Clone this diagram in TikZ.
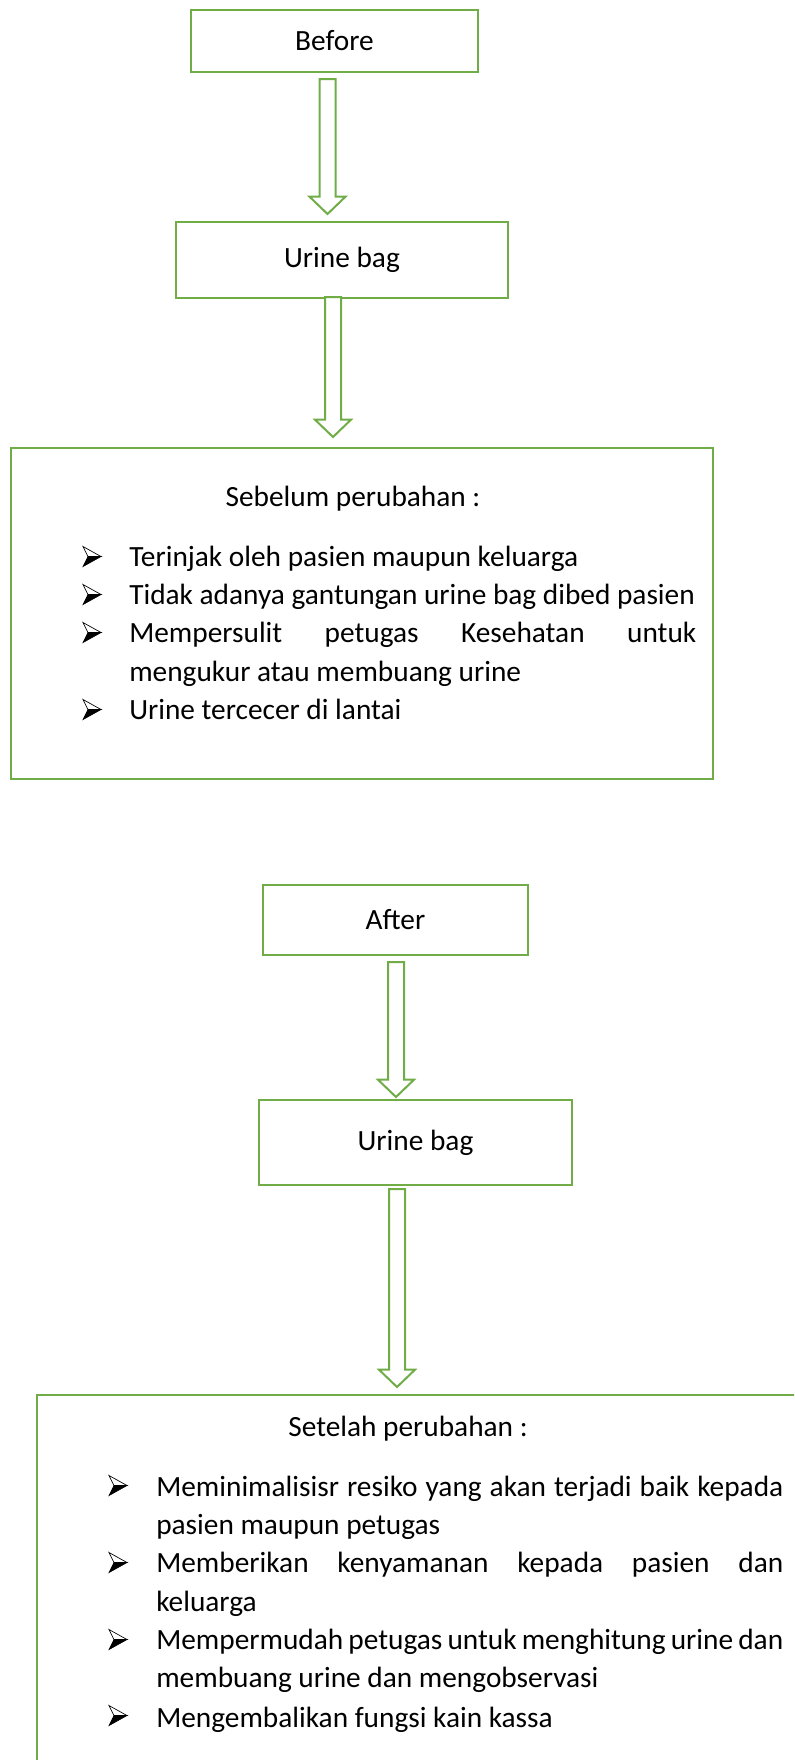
\documentclass[tikz,border=0pt]{standalone}
\usepackage{fontspec}
\setmainfont{Carlito}
\usetikzlibrary{calc}

\definecolor{officegreen}{HTML}{70AD47}

\tikzset{
  greenbox/.style={draw=officegreen, line width=1.5pt, fill=white, inner sep=0pt},
  blockarrow/.style={draw=officegreen, line width=1.5pt, fill=white, line join=miter},
  itemline/.style={anchor=base west, inner sep=0pt},
  bullettip/.pic={
      code={
          \draw[line width=0.5pt, fill=white] (0,-10) -- (18,0) -- (5,0) -- cycle;
          \draw[line width=0.5pt, fill=black] (5,0) -- (18,0) -- (0,10) -- cycle;
        }}
}
% hollow block arrow from #1 (top of shaft) to #2 (tip)
\newcommand{\blockarrow}[2]{%
  \draw[blockarrow] let \p1=(#1), \p2=(#2) in
    (\x1-6pt,\y1) -- (\x1+6pt,\y1) -- (\x1+6pt,\y2+13pt) -- (\x1+13.5pt,\y2+13pt)
    -- (\x1,\y2) -- (\x1-13.5pt,\y2+13pt) -- (\x1-6pt,\y2+13pt) -- cycle;
}

\begin{document}
\begin{tikzpicture}[x=0.75pt,y=-0.75pt,font=\fontsize{22pt}{28pt}\selectfont]
        \useasboundingbox (0,0) rectangle (794,1760);
        \clip (0,0) rectangle (794,1760);

        % before part
        \node[greenbox, minimum width=215.25pt, minimum height=46.5pt] (before) at (334.5,41) {Before};
        \node[greenbox, minimum width=249pt, minimum height=57pt] (bag1) at (342,260) {Urine bag};
        \node[greenbox, minimum width=526.5pt, minimum height=248.25pt] (sebelum) at (362,613.5) {};

        \coordinate (a1s) at ($(before.south)+(-7,6)$);
        \coordinate (a1e) at ($(bag1.north)+(-14.5,-7)$);
        \coordinate (a2s) at ($(bag1.south)+(-9,-2)$);
        \coordinate (a2e) at ($(sebelum.north)+(-29,-10)$);
        \blockarrow{a1s}{a1e}
        \blockarrow{a2s}{a2e}

        \node[anchor=base, inner sep=0pt] (sebtitle) at (353,506) {Sebelum perubahan :};
        \foreach \y in {556.5,594.5,632.5,709.5}
            \pic at (83,\y) {bullettip};
        \node[itemline] (s1) at (129,566) {Terinjak oleh pasien maupun keluarga};
        \node[itemline] (s2) at (129,604) {Tidak adanya gantungan urine bag dibed pasien};
        \node[itemline] (s3) at (129,642) {\makebox[425.25pt][s]{Mempersulit petugas Kesehatan untuk}};
        \node[itemline] (s3b) at (129,681) {mengukur atau membuang urine};
        \node[itemline] (s4) at (129,719) {Urine tercecer di lantai};

        % after part
        \node[greenbox, minimum width=198.75pt, minimum height=52.5pt] (after) at (395.5,920) {After};
        \node[greenbox, minimum width=234.75pt, minimum height=63.75pt] (bag2) at (415.5,1142.5) {Urine bag};
        \node[greenbox, minimum width=587.25pt, minimum height=303.75pt] (setelah) at (428.5,1597.5) {};

        \coordinate (a3s) at ($(after.south)+(0.5,6)$);
        \coordinate (a3e) at ($(bag2.north)+(-19.5,-2)$);
        \coordinate (a4s) at ($(bag2.south)+(-18.5,3)$);
        \coordinate (a4e) at ($(setelah.north)+(-31.5,-7)$);
        \blockarrow{a3s}{a3e}
        \blockarrow{a4s}{a4e}

        \node[anchor=base, inner sep=0pt] (settitle) at (408,1436) {Setelah perubahan :};
        \foreach \y in {1485.5,1562.5,1639.5,1715.5}
            \pic at (109,\y) {bullettip};
        \node[itemline] (t1) at (156,1496) {\makebox[470.25pt][s]{Meminimalisisr resiko yang akan terjadi baik kepada}};
        \node[itemline] (t1b) at (156,1534) {pasien maupun petugas};
        \node[itemline] (t2) at (156,1572) {\makebox[470.25pt][s]{Memberikan kenyamanan kepada pasien dan}};
        \node[itemline] (t2b) at (156,1611) {keluarga};
        \node[itemline] (t3) at (156,1649) {\makebox[470.25pt][s]{Mempermudah petugas untuk menghitung urine dan}};
        \node[itemline] (t3b) at (156,1687) {membuang urine dan mengobservasi};
        \node[itemline] (t4) at (156,1727) {Mengembalikan fungsi kain kassa};
      \end{tikzpicture}
\end{document}
